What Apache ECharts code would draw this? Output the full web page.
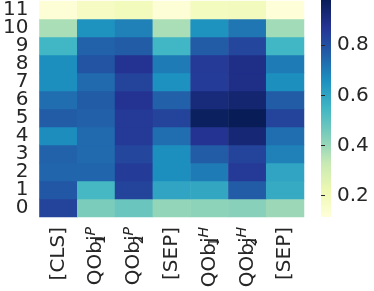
<!DOCTYPE html>
<html>
<head>
<meta charset="utf-8">
<script src="https://cdn.jsdelivr.net/npm/echarts@6/dist/echarts.min.js"></script>
<style>html,body{margin:0;padding:0;background:#fff}#c{width:374px;height:291px}</style>
</head>
<body>
<div id="c"></div>
<script>
// Column tokens (x axis)
const xLabels = ['[CLS]', 'QObj_1^P', 'QObj_2^P', '[SEP]', 'QObj_1^H', 'QObj_2^H', '[SEP]'];
// Layer rows (y axis), bottom to top
const yLabels = ['0','1','2','3','4','5','6','7','8','9','10','11'];
// Attention values per layer row, columns in xLabels order
const row0  = [0.833, 0.444, 0.478, 0.409, 0.418, 0.426, 0.396];
const row1  = [0.781, 0.539, 0.833, 0.599, 0.591, 0.768, 0.582];
const row2  = [0.746, 0.746, 0.850, 0.660, 0.703, 0.859, 0.599];
const row3  = [0.755, 0.738, 0.824, 0.660, 0.772, 0.833, 0.690];
const row4  = [0.664, 0.738, 0.859, 0.729, 0.876, 0.928, 0.729];
const row5  = [0.768, 0.759, 0.859, 0.833, 0.967, 0.980, 0.833];
const row6  = [0.729, 0.772, 0.876, 0.759, 0.919, 0.937, 0.772];
const row7  = [0.660, 0.738, 0.833, 0.656, 0.850, 0.894, 0.660];
const row8  = [0.660, 0.790, 0.876, 0.703, 0.859, 0.894, 0.703];
const row9  = [0.548, 0.755, 0.768, 0.548, 0.768, 0.824, 0.548];
const row10 = [0.375, 0.651, 0.690, 0.375, 0.651, 0.712, 0.387];
const row11 = [0.124, 0.176, 0.193, 0.124, 0.184, 0.189, 0.119];
const rows = [row0,row1,row2,row3,row4,row5,row6,row7,row8,row9,row10,row11];
// Colour bar ticks
const cbTicks = [0.2, 0.4, 0.6, 0.8];
const vMin = 0.115, vMax = 0.98;

const ylgnbu = ['#ffffd9','#edf8b1','#c7e9b4','#7fcdbb','#41b6c4','#1d91c0','#225ea8','#253494','#081d58'];
const txt = '#262626';
const font = 'DejaVu Sans';

const data = [];
rows.forEach((r, yi) => r.forEach((v, xi) => data.push([xi, yi, v])));

function fmtX(val, idx) {
  const s = xLabels[idx];
  const m = /^(.*)_(\w)\^(\w)$/.exec(s);
  if (!m) return '{b|' + s + '}';
  return '{b|' + m[1] + '}{sub|' + m[2] + '}{sup|' + m[3] + '}';
}

const chart = echarts.init(document.getElementById('c'), null, {renderer: 'canvas'});
const gradStops = ylgnbu.map((c, i) => ({offset: 1 - i / (ylgnbu.length - 1), color: c}));
chart.setOption({
  animation: false,
  textStyle: {fontFamily: font},
  grid: [
    {left: 36, top: 0, width: 268, height: 217},
    {left: 321, top: 0, width: 10, height: 217}
  ],
  xAxis: [
    {type: 'category', gridIndex: 0, data: xLabels,
     axisLine: {show: false}, axisTick: {show: false}, splitLine: {show: false},
     axisLabel: {rotate: 90, margin: 10, color: txt, fontSize: 20, fontFamily: font, interval: 0,
       formatter: fmtX,
       rich: {
         b: {fontSize: 20, fontFamily: font, color: txt, lineHeight: 24},
         sub: {fontSize: 14, fontFamily: font, color: txt, lineHeight: 15, verticalAlign: 'bottom', width: 0},
         sup: {fontSize: 14, fontFamily: font, fontStyle: 'italic', color: txt, lineHeight: 15, verticalAlign: 'top'}
       }}},
    {type: 'value', gridIndex: 1, show: false, min: 0, max: 1}
  ],
  yAxis: [
    {type: 'category', gridIndex: 0, data: yLabels,
     axisLine: {show: false}, axisTick: {show: false}, splitLine: {show: false},
     axisLabel: {margin: 11, color: txt, fontSize: 20, fontFamily: font, interval: 0}},
    {type: 'value', gridIndex: 1, position: 'right', min: vMin, max: vMax,
     axisLine: {show: false}, splitLine: {show: false},
     axisTick: {show: true, length: 4, lineStyle: {color: txt, width: 1}, customValues: cbTicks},
     axisLabel: {margin: 6, color: txt, fontSize: 20, fontFamily: font, customValues: cbTicks,
       formatter: v => v.toFixed(1)}}
  ],
  visualMap: {show: false, min: vMin, max: vMax, seriesIndex: 0, inRange: {color: ylgnbu}},
  graphic: [{
    type: 'rect', left: 321, top: 0, z: -1,
    shape: {width: 10, height: 217},
    style: {fill: new echarts.graphic.LinearGradient(0, 0, 0, 1, gradStops)}
  }],
  series: [{
    type: 'heatmap', xAxisIndex: 0, yAxisIndex: 0, data: data,
    itemStyle: {borderWidth: 0},
    emphasis: {disabled: true}
  }]
});
</script>
</body>
</html>
